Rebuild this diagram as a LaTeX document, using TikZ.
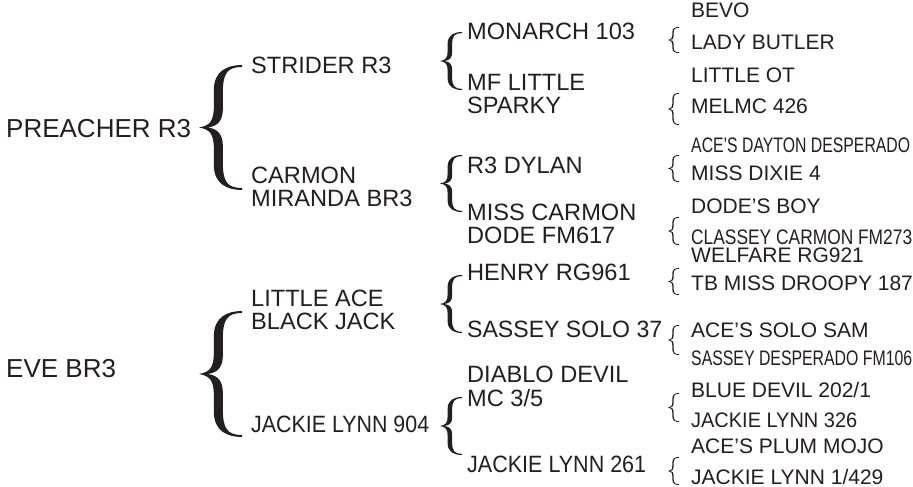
\documentclass[tikz,border=0pt]{standalone}
\usepackage{fontspec}
\usepackage{graphicx}
\setmainfont{Liberation Sans}
\definecolor{ink}{HTML}{231F20}
\newdimen\pbxA \newdimen\pbyA \newdimen\pbyB
\newcommand\pbrace[5]{%
  \pgfextractx{\pbxA}{\pgfpointanchor{#1}{center}}%
  \pgfextracty{\pbyA}{\pgfpointanchor{#1}{center}}%
  \pgfextracty{\pbyB}{\pgfpointanchor{#2}{center}}%
  \pgfmathsetmacro\pbX{\pbxA}%
  \pgfmathsetmacro\pbT{\pbyA}%
  \pgfmathsetmacro\pbB{\pbyB}%
  \pgfmathsetmacro\pbH{\pbT-\pbB}%
  \pgfmathsetmacro\pbM{(\pbT+\pbB)/2}%
  \pgfmathsetmacro\pbD{#3}%
  \pgfmathsetmacro\pbW{#4}%
  \pgfmathsetmacro\pbE{#5}%
  \pgfmathsetmacro\pbsL{\pbX-0.55*\pbD-0.5*\pbW}%
  \pgfmathsetmacro\pbsR{\pbX-0.55*\pbD+0.5*\pbW}%
  \pgfmathsetmacro\pbtX{\pbX-\pbD}%
  \pgfmathsetmacro\pbhX{\pbX-0.35*\pbD}%
  \pgfmathsetmacro\pbtA{\pbtX+0.25*\pbD}%
  \pgfmathsetmacro\pbtB{\pbtX+0.45*\pbD}%
  \pgfmathsetmacro\pbtC{\pbtX+0.2*\pbD}%
  \begin{scope}[x=1pt,y=1pt]
  \fill[ink] (\pbX,\pbT)
    .. controls (\pbhX,\pbT) and (\pbsL,{\pbT-0.05*\pbH}) .. (\pbsL,{\pbT-0.2*\pbH})
    -- (\pbsL,{\pbM+0.17*\pbH})
    .. controls (\pbsL,{\pbM+0.05*\pbH}) and (\pbtA,{\pbM+0.015*\pbH}) .. (\pbtX,\pbM)
    .. controls (\pbtA,{\pbM-0.015*\pbH}) and (\pbsL,{\pbM-0.05*\pbH}) .. (\pbsL,{\pbM-0.17*\pbH})
    -- (\pbsL,{\pbB+0.2*\pbH})
    .. controls (\pbsL,{\pbB+0.05*\pbH}) and (\pbhX,\pbB) .. (\pbX,\pbB)
    -- (\pbX,{\pbB+\pbE})
    .. controls (\pbhX,{\pbB+\pbE}) and (\pbsR,{\pbB+0.07*\pbH}) .. (\pbsR,{\pbB+0.22*\pbH})
    -- (\pbsR,{\pbM-0.15*\pbH})
    .. controls (\pbsR,{\pbM-0.06*\pbH}) and (\pbtB,{\pbM-0.01*\pbH}) .. (\pbtC,\pbM)
    .. controls (\pbtB,{\pbM+0.01*\pbH}) and (\pbsR,{\pbM+0.06*\pbH}) .. (\pbsR,{\pbM+0.15*\pbH})
    -- (\pbsR,{\pbT-0.22*\pbH})
    .. controls (\pbsR,{\pbT-0.07*\pbH}) and (\pbhX,{\pbT-\pbE}) .. (\pbX,{\pbT-\pbE})
    -- cycle;
  \end{scope}}
\newcommand\twol[2]{\begin{tabular}[t]{@{}l@{}}#1\\#2\end{tabular}}
\newcommand\cond[2]{\resizebox{#1}{\height}{#2}}
\begin{document}
\begin{tikzpicture}[x=1pt,y=-1pt,
  base/.style={anchor=base west, inner sep=0pt, text=ink},
  lone/.style={base, font=\fontsize{26}{26}\selectfont},
  ltwo/.style={base, font=\fontsize{23.6}{23.5}\selectfont},
  lfour/.style={base, font=\fontsize{21}{21}\selectfont}]
\useasboundingbox[fill=white] (0,0) rectangle (913,487);
% level 1
\node[lone] (p) at (6,137) {PREACHER R3};
\node[lone] (e) at (6,377) {EVE BR3};
% level 2
\node[ltwo] (s1) at (251,74) {STRIDER R3};
\node[ltwo] (s2) at (251,183) {\twol{CARMON}{MIRANDA BR3}};
\node[ltwo] (s3) at (251,306) {\twol{LITTLE ACE}{BLACK JACK}};
\node[ltwo] (s4) at (251,432) {\cond{178pt}{JACKIE LYNN 904}};
% level 3
\node[ltwo] (t1) at (467,40) {MONARCH 103};
\node[ltwo] (t2) at (467,90) {\twol{MF LITTLE}{SPARKY}};
\node[ltwo] (t3) at (467,173) {R3 DYLAN};
\node[ltwo] (t4) at (467,220) {\twol{MISS CARMON}{DODE FM617}};
\node[ltwo] (t5) at (467,280) {HENRY RG961};
\node[ltwo] (t6) at (467,337) {\cond{195pt}{SASSEY SOLO 37}};
\node[ltwo] (t7) at (467,382) {\twol{DIABLO DEVIL}{MC 3/5}};
\node[ltwo] (t8) at (467,472) {\cond{179pt}{JACKIE LYNN 261}};
% level 4
\node[lfour] (u1) at (691,18) {BEVO};
\node[lfour] (u2) at (691,50) {LADY BUTLER};
\node[lfour] (u3) at (691,83) {LITTLE OT};
\node[lfour] (u4) at (691,113) {MELMC 426};
\node[lfour] (u5) at (691,152) {\cond{219pt}{ACE’S DAYTON DESPERADO}};
\node[lfour] (u6) at (691,180) {MISS DIXIE 4};
\node[lfour] (u7) at (691,213) {DODE’S BOY};
\node[lfour] (u8) at (691,244) {\cond{221pt}{CLASSEY CARMON FM273}};
\node[lfour] (u9) at (691,262) {WELFARE RG921};
\node[lfour] (u10) at (691,290) {TB MISS DROOPY 187};
\node[lfour] (u11) at (691,337) {ACE’S SOLO SAM};
\node[lfour] (u12) at (691,365) {\cond{221pt}{SASSEY DESPERADO FM106}};
\node[lfour] (u13) at (691,397) {BLUE DEVIL 202/1};
\node[lfour] (u14) at (691,427) {\cond{166pt}{JACKIE LYNN 326}};
\node[lfour] (u15) at (691,453) {ACE’S PLUM MOJO};
\node[lfour, text depth=0pt] (u16) at (691,484) {JACKIE LYNN 1/429};
% brace end points
\coordinate (a1t) at (242,65);  \coordinate (a1b) at (242,190);
\coordinate (a2t) at (242,311); \coordinate (a2b) at (242,437);
\coordinate (b1t) at (462,32);  \coordinate (b1b) at (462,90);
\coordinate (b2t) at (462,155); \coordinate (b2b) at (462,212);
\coordinate (b3t) at (462,275); \coordinate (b3b) at (462,333);
\coordinate (b4t) at (462,397); \coordinate (b4b) at (462,455);
\coordinate (c1t) at (679,27);  \coordinate (c1b) at (679,53);
\coordinate (c2t) at (679,93);  \coordinate (c2b) at (679,125);
\coordinate (c3t) at (679,155); \coordinate (c3b) at (679,182);
\coordinate (c4t) at (679,217); \coordinate (c4b) at (679,245);
\coordinate (c5t) at (679,268); \coordinate (c5b) at (679,295);
\coordinate (c6t) at (679,325); \coordinate (c6b) at (679,355);
\coordinate (c7t) at (679,393); \coordinate (c7b) at (679,422);
\coordinate (c8t) at (679,457); \coordinate (c8b) at (679,485);
% braces
\pbrace{a1t}{a1b}{43}{9}{2}
\pbrace{a2t}{a2b}{43}{9}{2}
\pbrace{b1t}{b1b}{22}{4.5}{1.2}
\pbrace{b2t}{b2b}{22}{4.5}{1.2}
\pbrace{b3t}{b3b}{22}{4.5}{1.2}
\pbrace{b4t}{b4b}{22}{4.5}{1.2}
\pbrace{c1t}{c1b}{11}{1.3}{0.8}
\pbrace{c2t}{c2b}{11}{1.3}{0.8}
\pbrace{c3t}{c3b}{11}{1.3}{0.8}
\pbrace{c4t}{c4b}{11}{1.3}{0.8}
\pbrace{c5t}{c5b}{11}{1.3}{0.8}
\pbrace{c6t}{c6b}{11}{1.3}{0.8}
\pbrace{c7t}{c7b}{11}{1.3}{0.8}
\pbrace{c8t}{c8b}{11}{1.3}{0.8}
\end{tikzpicture}
\end{document}
